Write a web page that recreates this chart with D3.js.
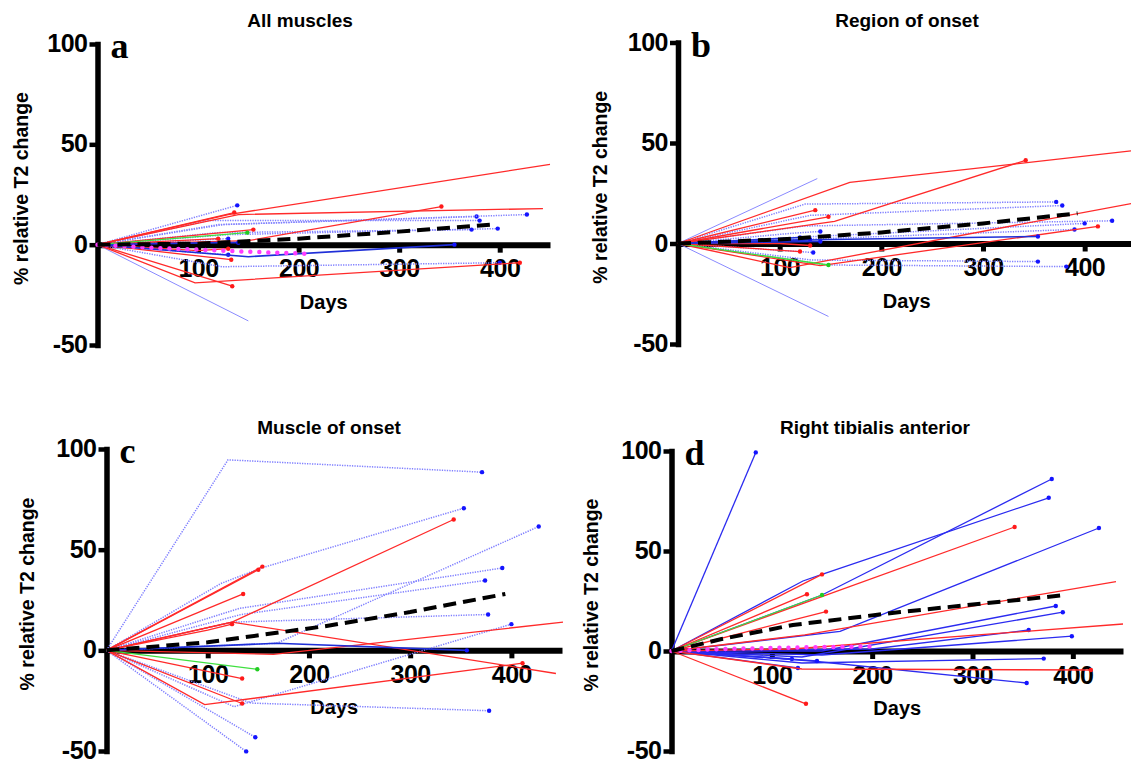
<!DOCTYPE html>
<html>
<head>
<meta charset="utf-8">
<script src="https://cdn.jsdelivr.net/npm/d3@7"></script>
<style>
  body { margin: 0; background: #fff; }
  svg { display: block; }
  text { font-family: "Liberation Sans", Arial, sans-serif; font-weight: bold; }
</style>
</head>
<body>
<div id="chart"></div>
<script>
// tick values shared by all four panels
const xTicks = [100, 200, 300, 400];
const yTicks = [-50, 0, 50, 100];
const panelTitles = ["All muscles", "Region of onset", "Muscle of onset", "Right tibialis anterior"];
const panelLetters = ["a", "b", "c", "d"];

// each series is a list of [days, % change] points
// panel a - all muscles
const aRed = [
  [[0, 0], [130, 15], [450, 40]],
  [[0, 0], [136, 16]],
  [[0, 0], [140, 15], [443, 18]],
  [[0, 0], [150, 2], [342, 19]],
  [[0, 0], [155, 7.5]],
  [[0, 0], [133, -7.5]],
  [[0, 0], [97, -19], [420, -9]],
  [[0, 0], [134, -20.7]],
  [[0, 0], [100, -3], [130, -2]],
  [[0, 0], [120, 3]]
];
const aBlueDotted = [
  [[0, 0], [139, 19.6]],
  [[0, 0], [120, 10], [377, 14]],
  [[0, 0], [125, 10], [427, 15]],
  [[0, 0], [130, 5], [398, 8]],
  [[0, 0], [120, 6], [372, 7.5]],
  [[0, 0], [124, -11], [400, -9]],
  [[0, 0], [110, 12], [380, 12]],
  [[0, 0], [100, -4], [130, -5]],
  [[0, 0], [130, 3]]
];
const aBlueLight = [
  [[0, 0], [150, -38]]
];
const aBlueSolid = [
  [[0, 0], [150, -6], [355, 0]],
  [[0, 0], [120, 1], [140, 1]]
];
const aGreen = [[[0, 0], [149, 6]]];
const aMagenta = [[0, 0], [50, -1.5], [100, -2.5], [150, -3.5], [206, -4.5]];
const aMean = [[0, 0], [100, 0.5], [200, 3], [300, 6.5], [392, 10]];

// panel b - region of onset
const bRed = [
  [[0, 0], [169, 30.4], [450, 46.3]],
  [[0, 0], [135, 16.6]],
  [[0, 0], [148, 13.3]],
  [[0, 0], [154, 11], [342, 41.4]],
  [[0, 0], [110, -12], [450, 20.3]],
  [[0, 0], [140, -11], [413, 8.5]],
  [[0, 0], [120, -4]],
  [[0, 0], [100, 0], [130, -1]]
];
const bBlueDotted = [
  [[0, 0], [124, 8.7], [427, 11.3]],
  [[0, 0], [125, 19.6], [372, 20.7]],
  [[0, 0], [130, 14], [378, 18.9]],
  [[0, 0], [131, 3.4], [400, 10]],
  [[0, 0], [120, 2], [390, 7]],
  [[0, 0], [131, -8.2], [354, -9]],
  [[0, 0], [148, -10.7], [382, -11.5]],
  [[0, 0], [133, -4.5]],
  [[0, 0], [110, 5], [140, 6]]
];
const bBlueLight = [
  [[0, 0], [137, 32.3]],
  [[0, 0], [148, -36.3]]
];
const bBlueSolid = [
  [[0, 0], [150, 2], [354, 3.5]],
  [[0, 0], [130, 2]],
  [[0, 0], [140, 1]],
  [[0, 0], [120, 3]]
];
const bGreen = [[[0, 0], [148, -10.7]]];
const bMean = [[0, 0], [100, 2], [200, 5.5], [300, 10], [393, 15]];

// panel c - muscle of onset
const cRed = [
  [[0, 0], [154, 41.6]],
  [[0, 0], [150, 40]],
  [[0, 0], [135, 28]],
  [[0, 0], [124, 14], [343, 65]],
  [[0, 0], [124, 14], [444, -11.5]],
  [[0, 0], [134, -14]],
  [[0, 0], [97, -27], [411, -6.4]],
  [[0, 0], [134, -26.4]],
  [[0, 0], [165, -2], [451, 14]],
  [[0, 0], [100, 10], [124, 13]]
];
const cBlueDotted = [
  [[0, 0], [120, 94.6], [371, 88.5]],
  [[0, 0], [113, 33.2], [153, 40.9], [353, 70.6]],
  [[0, 0], [131, 20.8], [391, 40.9]],
  [[0, 0], [133, 17.8], [374, 34.7]],
  [[0, 0], [124, 14], [377, 17.8]],
  [[0, 0], [168, 3.5], [427, 61.5]],
  [[0, 0], [126, -28], [400, 13]],
  [[0, 0], [143, -26.2], [378, -30]],
  [[0, 0], [147, -43.2]],
  [[0, 0], [138, -50.2]]
];
const cBlueSolid = [
  [[0, 0], [168, 3.5], [356, 0]]
];
const cGreen = [[[0, 0], [149, -9.4]]];
const cMean = [[0, 0], [100, 4], [216, 12], [300, 19], [394, 28]];

// panel d - right tibialis anterior
const dBlue = [
  [[0, 0], [84, 99.3]],
  [[0, 0], [131, 35], [150, 38.3], [376, 76.6]],
  [[0, 0], [150, 28], [379, 86]],
  [[0, 0], [168, 9.8], [426, 61.5]],
  [[0, 0], [150, 0], [383, 22.5]],
  [[0, 0], [130, -3], [390, 19.4]],
  [[0, 0], [200, 1], [356, 10.5]],
  [[0, 0], [150, -2], [399, 7.4]],
  [[0, 0], [130, -6], [371, -3.8]],
  [[0, 0], [140, -5], [354, -16]],
  [[0, 0], [126, -8.5]],
  [[0, 0], [120, -4]],
  [[0, 0], [145, -5]]
];
const dRed = [
  [[0, 0], [150, 38.3]],
  [[0, 0], [135, 28.4]],
  [[0, 0], [154, 19.7]],
  [[0, 0], [342, 62]],
  [[0, 0], [133, 8.1], [443, 34.7]],
  [[0, 0], [120, 1], [450, 13.5]],
  [[0, 0], [130, -9], [418, -9.5]],
  [[0, 0], [134, -26.4]]
];
const dGreen = [[[0, 0], [150, 28]]];
const dMagenta = [[0, 0], [50, 1], [100, 1.5], [150, 2], [206, 2.3]];
const dMean = [[0, 0], [50, 6], [121, 13], [228, 19.5], [393, 28]];

// line styles
const styles = {
  red:        { stroke: "#ff2a2a", width: 1.3, dash: null, dot: "#ff1a1a" },
  blueDotted: { stroke: "#8080ff", width: 1.5, dash: "1.3,1.2", dot: "#1414ff" },
  blueLight:  { stroke: "#8a8aff", width: 1, dash: null, dot: null },
  blueSolid:  { stroke: "#1f2fd8", width: 1.6, dash: null, dot: "#1414ff" },
  blueD:      { stroke: "#2b2bf0", width: 1.3, dash: null, dot: "#1414ff" },
  green:      { stroke: "#3fe03f", width: 1.3, dash: null, dot: "#22cc22" }
};

const panels = [
  { left: 97.5, right: 550, top: 44, bottom: 345,
    groups: [["blueLight", aBlueLight], ["blueDotted", aBlueDotted], ["red", aRed], ["blueSolid", aBlueSolid], ["green", aGreen]],
    magenta: aMagenta, mean: aMean, titleX: 300, titleY: 27, yLabelX: 21 },
  { left: 678, right: 1135.5, top: 42.5, bottom: 344,
    groups: [["blueLight", bBlueLight], ["blueDotted", bBlueDotted], ["red", bRed], ["blueSolid", bBlueSolid], ["green", bGreen]],
    magenta: null, mean: bMean, titleX: 907, titleY: 27, yLabelX: 600 },
  { left: 106.5, right: 562, top: 449, bottom: 751,
    groups: [["blueDotted", cBlueDotted], ["red", cRed], ["blueSolid", cBlueSolid], ["green", cGreen]],
    magenta: null, mean: cMean, titleX: 329, titleY: 434, yLabelX: 27 },
  { left: 671.5, right: 1123, top: 451, bottom: 751,
    groups: [["blueD", dBlue], ["red", dRed], ["green", dGreen]],
    magenta: dMagenta, mean: dMean, titleX: 875, titleY: 434, yLabelX: 591 }
];

const svg = d3.select("#chart").append("svg")
  .attr("width", 1131)
  .attr("height", 764);

panels.forEach((p, i) => {
  const x = d3.scaleLinear().domain([0, 450]).range([p.left, p.right]);
  const y = d3.scaleLinear().domain([-50, 100]).range([p.bottom, p.top]);
  const line = d3.line().x(d => x(d[0])).y(d => y(d[1]));
  const g = svg.append("g");

  // title
  g.append("text")
    .attr("x", p.titleX)
    .attr("y", p.titleY)
    .attr("text-anchor", "middle")
    .style("font-size", "19px")
    .text(panelTitles[i]);

  // y axis
  const yAxis = g.append("g")
    .attr("transform", `translate(${x(0)},0)`)
    .call(d3.axisLeft(y).tickValues(yTicks).tickFormat(d => String(d))
      .tickSize(8).tickSizeOuter(0).tickPadding(2));
  yAxis.select(".domain").attr("stroke-width", 5.5).attr("stroke-linecap", "square");
  yAxis.selectAll(".tick line").attr("stroke-width", 4.5);
  yAxis.selectAll(".tick text")
    .attr("dy", "0.3em")
    .style("font-size", "25px")
    .style("font-family", "'Liberation Sans', Arial, sans-serif")
    .style("font-weight", "bold")
    .style("letter-spacing", "-0.5px")
    .attr("fill", "#000");

  // x axis at y = 0
  const xAxis = g.append("g")
    .attr("transform", `translate(0,${y(0)})`)
    .call(d3.axisBottom(x).tickValues(xTicks).tickFormat(d => String(d))
      .tickSize(8).tickSizeOuter(0).tickPadding(7));
  xAxis.select(".domain").attr("stroke-width", 6);
  xAxis.selectAll(".tick line").attr("stroke-width", 5);
  xAxis.selectAll(".tick text")
    .style("font-size", "25px")
    .style("font-family", "'Liberation Sans', Arial, sans-serif")
    .style("font-weight", "bold")
    .style("letter-spacing", "-0.5px")
    .attr("fill", "#000");

  // axis titles
  g.append("text")
    .attr("x", x(225))
    .attr("y", y(0) + 64)
    .attr("text-anchor", "middle")
    .style("font-size", "20px")
    .text("Days");

  g.append("text")
    .attr("transform", `translate(${p.yLabelX},${y(25) - 6}) rotate(-90)`)
    .attr("text-anchor", "middle")
    .attr("dy", "0.35em")
    .style("font-size", "19.5px")
    .text("% relative  T2 change");

  // panel letter
  g.append("text")
    .attr("x", x(0) + 13)
    .attr("y", y(100) + 14)
    .style("font-family", "'Liberation Serif', 'Times New Roman', serif")
    .style("font-size", "36px")
    .style("font-weight", "bold")
    .text(panelLetters[i]);

  // individual series
  p.groups.forEach(([key, series]) => {
    const s = styles[key];
    series.forEach(pts => {
      g.append("path")
        .attr("d", line(pts))
        .attr("fill", "none")
        .attr("stroke", s.stroke)
        .attr("stroke-width", s.width)
        .attr("stroke-dasharray", s.dash);
      const end = pts[pts.length - 1];
      if (s.dot && end[0] < 440) {
        g.append("circle")
          .attr("cx", x(end[0]))
          .attr("cy", y(end[1]))
          .attr("r", 2.2)
          .attr("fill", s.dot);
      }
    });
  });

  // magenta dotted series
  if (p.magenta) {
    g.append("path")
      .attr("d", line(p.magenta))
      .attr("fill", "none")
      .attr("stroke", "#ff3cff")
      .attr("stroke-width", 4.5)
      .attr("stroke-linecap", "round")
      .attr("stroke-dasharray", "0,9");
  }

  // mean trend, thick dashed black
  g.append("path")
    .attr("d", line(p.mean))
    .attr("fill", "none")
    .attr("stroke", "#000")
    .attr("stroke-width", 4)
    .attr("stroke-dasharray", "13,7");
});
</script>
</body>
</html>
